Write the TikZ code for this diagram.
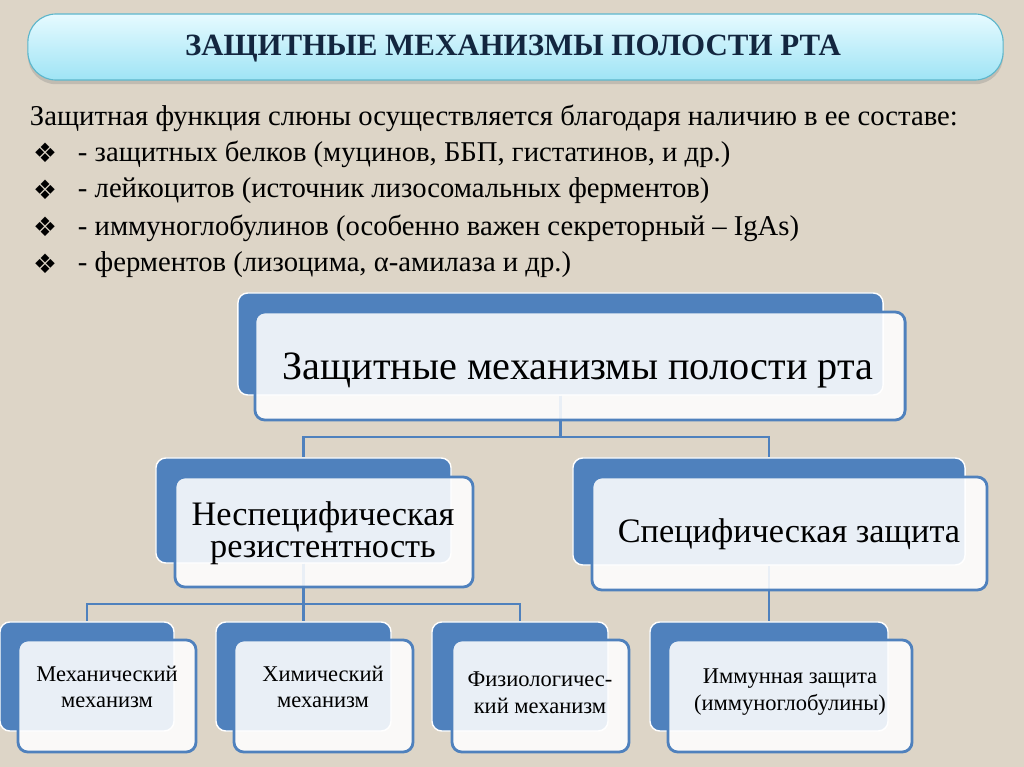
\documentclass[tikz,border=0pt]{standalone}
\usepackage{fontspec}
\setmainfont{Liberation Serif}
\newfontfamily\symfont{DejaVu Sans}
\usetikzlibrary{shapes,arrows,positioning,shadows}

\definecolor{slidebg}{HTML}{DDD5C7}
\definecolor{boxblue}{HTML}{4F81BD}
\definecolor{titleink}{HTML}{13263F}
\definecolor{bannertop}{HTML}{E6FAFF}
\definecolor{bannerbot}{HTML}{9FE4F5}
\definecolor{bannerline}{HTML}{5DB6CB}

\tikzset{
  backbox/.style={rectangle, rounded corners=7pt, fill=boxblue, draw=white, line width=1pt, inner sep=0pt},
  frontbox/.style={rectangle, rounded corners=7pt, fill=white, fill opacity=0.88, draw=boxblue, line width=2pt, inner sep=0pt},
  link/.style={draw=boxblue, line width=1.8pt},
  bigtxt/.style={font=\fontsize{28.6}{30}\selectfont, align=center},
  midtxt/.style={font=\fontsize{24.4}{22.5}\selectfont, align=center},
  smalltxt/.style={font=\fontsize{16}{19}\selectfont, align=center},
  bodytxt/.style={anchor=west, font=\fontsize{20.4}{22}\selectfont},
  bulletmark/.style={font=\symfont\fontsize{19}{20}\selectfont, text=black},
}

\begin{document}
\begin{tikzpicture}[x=0.025cm, y=-0.025cm]
    % фон слайда
    \fill[slidebg] (0,0) rectangle (1024,767);
    \useasboundingbox (0,0) rectangle (1024,767);

    % заголовок
    \node[rectangle, rounded corners=20pt, minimum width=24.375cm, minimum height=1.65cm,
          top color=bannertop, bottom color=bannerbot, draw=bannerline, line width=0.8pt,
          drop shadow={opacity=0.3, shadow xshift=0pt, shadow yshift=-3pt}] (banner) at (515.5,47) {};
    \node[font=\bfseries\fontsize{22}{26}\selectfont, text=titleink] (title) at (513,49)
        {ЗАЩИТНЫЕ МЕХАНИЗМЫ ПОЛОСТИ РТА};

    % текст
    \node[bodytxt] (intro) at (25,118) {Защитная функция слюны осуществляется благодаря наличию в ее составе:};
    \foreach \t [count=\i] in {{- защитных белков (муцинов, ББП, гистатинов, и др.)},
                              {- лейкоцитов (источник лизосомальных ферментов)},
                              {- иммуноглобулинов (особенно важен секреторный – IgAs)},
                              {- ферментов (лизоцима, α-амилаза и др.)}} {
        \node[bulletmark] (mark\i) at (45,116+37*\i) {❖};
        \node[bodytxt] (item\i) at (73,117+37*\i) {\t};
    }

    % задние прямоугольники
    \node[backbox, minimum width=16.125cm, minimum height=2.55cm] (topback) at (560.5,344) {};
    \node[backbox, minimum width=7.375cm, minimum height=2.625cm] (nsback) at (303.5,510.5) {};
    \node[backbox, minimum width=9.8cm, minimum height=2.675cm] (sback) at (769,511.5) {};
    \node[backbox, minimum width=4.35cm, minimum height=2.725cm] (mechback) at (87,676.5) {};
    \node[backbox, minimum width=4.375cm, minimum height=2.725cm] (chemback) at (303.5,676.5) {};
    \node[backbox, minimum width=4.4cm, minimum height=2.725cm] (physback) at (520,676.5) {};
    \node[backbox, minimum width=5.95cm, minimum height=2.725cm] (immback) at (769,676.5) {};

    % связи
    \coordinate (bus1) at (0,437);
    \coordinate (bus2) at (0,604);
    \draw[link] (topback.south) -- (topback.south |- bus1) -| (nsback.north);
    \draw[link] (topback.south) -- (topback.south |- bus1) -| (sback.north);
    \draw[link] (nsback.south) -- (nsback.south |- bus2) -| (mechback.north);
    \draw[link] (nsback.south) -- (chemback.north);
    \draw[link] (nsback.south) -- (nsback.south |- bus2) -| (physback.north);
    \draw[link] (sback.south) -- (immback.north);

    % передние прямоугольники
    \node[frontbox, minimum width=16.25cm, minimum height=2.7cm] (topfront) at (580,366) {};
    \node[frontbox, minimum width=7.45cm, minimum height=2.75cm] (nsfront) at (324,532) {};
    \node[frontbox, minimum width=9.875cm, minimum height=2.825cm] (sfront) at (789.5,533.5) {};
    \node[frontbox, minimum width=4.45cm, minimum height=2.8cm] (mechfront) at (107,696) {};
    \node[frontbox, minimum width=4.475cm, minimum height=2.8cm] (chemfront) at (323.5,696) {};
    \node[frontbox, minimum width=4.425cm, minimum height=2.8cm] (physfront) at (540.5,696) {};
    \node[frontbox, minimum width=6.1cm, minimum height=2.8cm] (immfront) at (790,696) {};

    % подписи
    \node[bigtxt] (toptxt) at (578,370) {Защитные механизмы полости рта};
    \node[midtxt] (nstxt) at (323,533) {Неспецифическая\\резистентность};
    \node[midtxt] (stxt) at (789,534) {Специфическая защита};
    \node[smalltxt] (mechtxt) at (107,687) {Механический\\механизм};
    \node[smalltxt] (chemtxt) at (323,687) {Химический\\механизм};
    \node[smalltxt] (phystxt) at (540,693) {Физиологичес-\\кий механизм};
    \node[smalltxt] (immtxt) at (790,692) {Иммунная защита\\(иммуноглобулины)};
\end{tikzpicture}
\end{document}
